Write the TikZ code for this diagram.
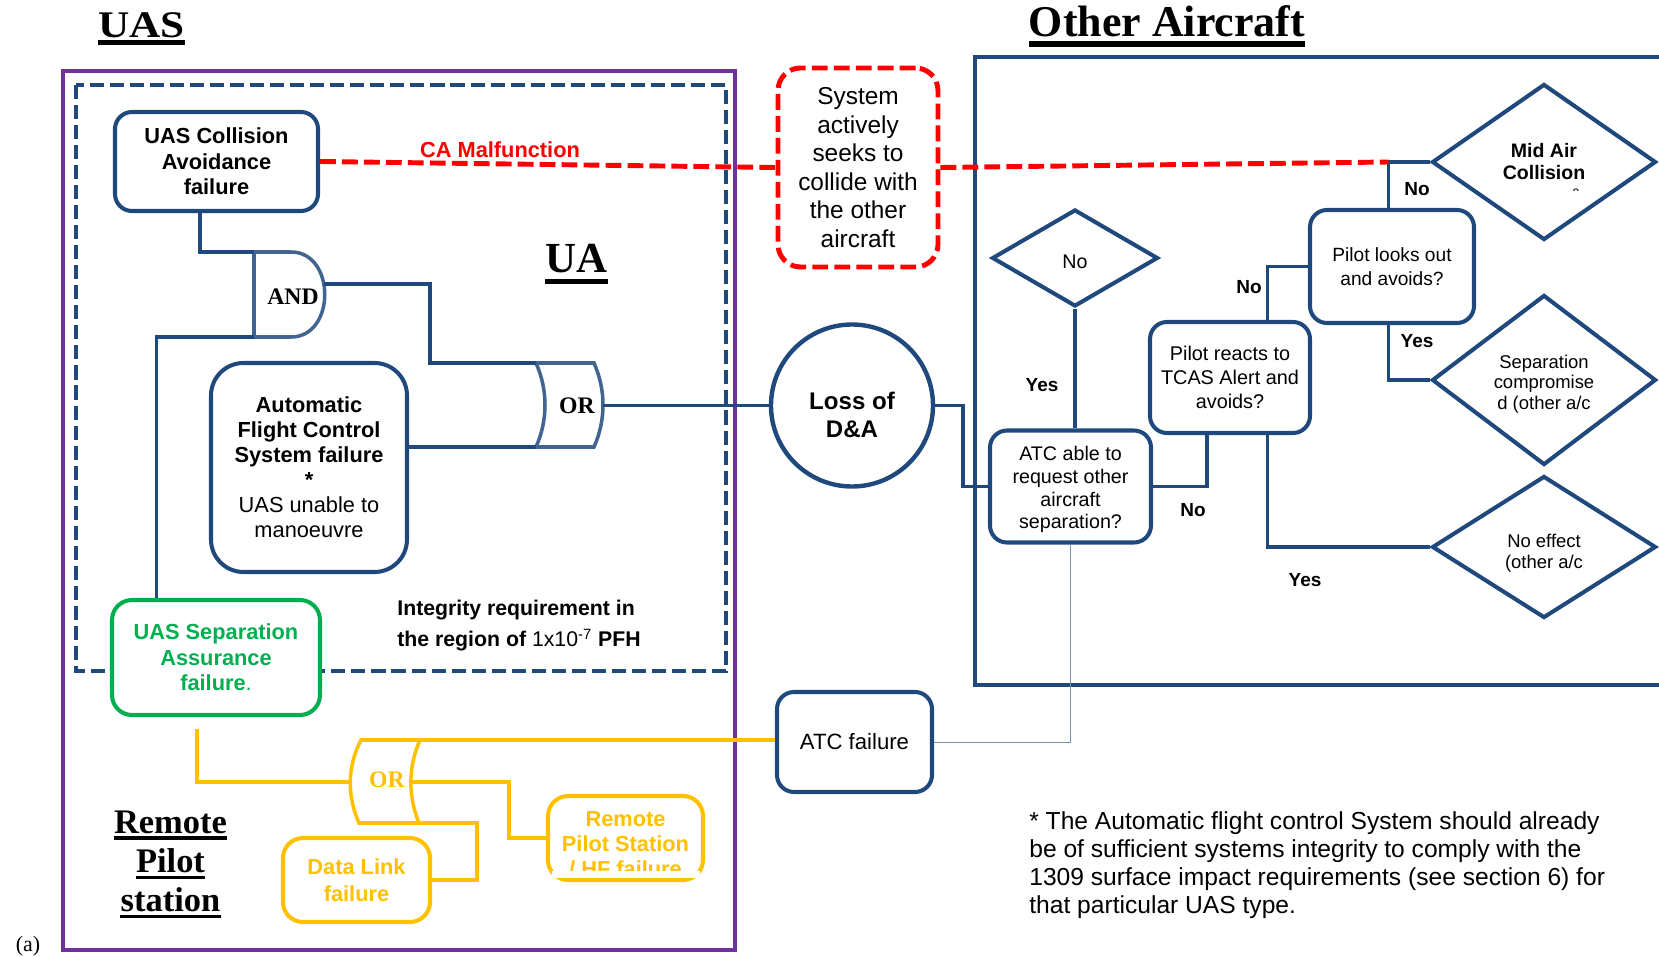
\documentclass[tikz,border=0pt]{standalone}
\usepackage{graphicx}
\usepackage{fontspec}
\setmainfont{Liberation Sans}
\newfontfamily\timesfont{Liberation Serif}
\usepackage{tikz}
\usetikzlibrary{shapes.geometric, calc}
\definecolor{navyblue}{RGB}{31,73,125}
\definecolor{purplebox}{RGB}{112,48,160}
\definecolor{amber}{RGB}{255,192,0}
\definecolor{sepgreen}{RGB}{0,176,80}

\begin{document}
\begin{tikzpicture}[x=2cm, y=2cm,
  box/.style={draw=navyblue, line width=2.3pt, rounded corners=0.34cm, fill=white, align=center, inner sep=0pt},
  ybox/.style={box, draw=amber, text=amber},
  diam/.style={diamond, draw=navyblue, line width=2.3pt, fill=white, align=center, inner sep=0pt},
  link/.style={draw=navyblue, line width=2pt},
  ylink/.style={draw=amber, line width=2pt},
  redline/.style={draw=red, line width=2.8pt, dash pattern=on 9pt off 3.5pt},
  gate/.style={draw=navyblue!85, line width=2pt},
  lbl/.style={inner sep=0pt, font=\bfseries\fontsize{10.8}{13}\selectfont},
  title/.style={inner sep=0pt, font=\timesfont\bfseries\fontsize{#1}{#1}\selectfont},
  gatetext/.style={inner sep=0pt, font=\timesfont\bfseries\fontsize{13.5}{14}\selectfont}]
\useasboundingbox (0,0) rectangle (16.59,-9.57);

% Frames
\draw[purplebox, line width=2.5pt] (0.63,-0.71) rectangle (7.35,-9.50);
\draw[navyblue, line width=2.3pt, dash pattern=on 8pt off 3.4pt] (0.76,-0.85) rectangle (7.26,-6.71);
\draw[navyblue, line width=2.3pt] (17,-0.57) -- (9.75,-0.57) -- (9.75,-6.85) -- (17,-6.85);

% Titles
\node[title=21.4, anchor=base] (uas) at (1.415,-0.375) {\scalebox{1.15}[1]{UAS}};
\draw[line width=2.8pt] ([yshift=-3pt]uas.base west) -- ([yshift=-3pt]uas.base east);
\node[title=25, anchor=base] (other) at (11.67,-0.37) {Other Aircraft};
\draw[line width=3.4pt] ([yshift=-4pt]other.base west) -- ([yshift=-4pt]other.base east);
\node[title=24.4, anchor=base] (ua) at (5.765,-2.73) {UA};
\draw[line width=2.7pt] ([yshift=-4.8pt]ua.base west) -- ([yshift=-4.8pt]ua.base east);
\foreach \word/\y [count=\i] in {Remote/8.33, Pilot/8.725, station/9.115} {
    \node[title=19.6, anchor=base] (rp\i) at (1.705,-\y) {\word};
    \draw[line width=2pt] ([yshift=-2.8pt]rp\i.base west) -- ([yshift=-2.8pt]rp\i.base east);
}
\node[inner sep=0pt, font=\timesfont\fontsize{12.5}{14}\selectfont] (panel) at (0.28,-9.46) {(a)};

% UAS side
\node[box, minimum width=4.06cm, minimum height=1.98cm, font=\bfseries\fontsize{12.4}{14.5}\selectfont] (cafail) at (2.165,-1.615) {UAS Collision\\Avoidance\\failure};
\node[box, rounded corners=0.65cm, minimum width=3.92cm, minimum height=4.18cm, font=\fontsize{12.4}{14.2}\selectfont] (afcs) at (3.09,-4.675) {\textbf{Automatic}\\\textbf{Flight Control}\\\textbf{System failure}\\\textbf{*}\\UAS unable to\\manoeuvre};
\node[box, draw=sepgreen, text=sepgreen, rounded corners=0.4cm, minimum width=4.16cm, minimum height=2.30cm, font=\bfseries\fontsize{12.4}{14.5}\selectfont] (sepfail) at (2.16,-6.575) {UAS Separation\\Assurance\\failure\mdseries.};
\node[inner sep=0pt, anchor=north west, align=left, font=\bfseries\fontsize{12.1}{18}\selectfont] (integ) at (3.97,-5.995) {Integrity requirement in\\the region of {\mdseries 1x10\textsuperscript{-7}} PFH};
\node[inner sep=0pt, text=red, font=\bfseries\fontsize{12.4}{14}\selectfont] (camal) at (5.0,-1.495) {CA Malfunction};

% Gates
\draw[gate, fill=white] (2.54,-2.52) coordinate (andtl) -- (2.91,-2.52) .. controls (3.36,-2.52) and (3.36,-3.37) .. (2.91,-3.37) -- (2.54,-3.37) coordinate (andbl) -- cycle;
\coordinate (andout) at (3.24,-2.84);
\node[gatetext] (andlbl) at (2.93,-2.97) {AND};
\draw[gate, fill=white] (5.36,-3.63) coordinate (ortl) -- (5.94,-3.63) .. controls (6.06,-3.90) and (6.06,-4.20) .. (5.94,-4.47) -- (5.36,-4.47) coordinate (orbl) .. controls (5.48,-4.20) and (5.48,-3.90) .. (5.36,-3.63) -- cycle;
\coordinate (orout) at (6.03,-4.055);
\node[gatetext] (orlbl) at (5.77,-4.06) {OR};
\draw[ylink, fill=white] (3.61,-7.40) coordinate (ytl) -- (4.20,-7.40) .. controls (4.08,-7.67) and (4.08,-7.96) .. (4.19,-8.23) coordinate (ybr) -- (3.59,-8.23) .. controls (3.47,-7.96) and (3.47,-7.67) .. (3.61,-7.40) -- cycle;
\coordinate (yin) at (3.505,-7.82);
\coordinate (yout) at (4.11,-7.82);
\node[gatetext, text=amber] (ylbl) at (3.87,-7.80) {OR};

% Remote pilot station
\node[ybox, rounded corners=0.4cm, minimum width=2.94cm, minimum height=1.68cm, font=\bfseries\fontsize{12.4}{15.3}\selectfont] (datalink) at (3.565,-8.80) {Data Link\\failure};
\node[ybox, rounded corners=0.4cm, minimum width=3.10cm, minimum height=1.68cm, font=\bfseries\fontsize{12.4}{14.2}\selectfont] (rps) at (6.255,-8.38) {\rule{0pt}{15.7pt}Remote\\Pilot Station\\/ HF failure};
\fill[white] (5.52,-8.71) rectangle (7.00,-8.775);

% Middle
\node[box, draw=red, line width=2.8pt, dash pattern=on 9pt off 3.5pt, rounded corners=0.45cm, minimum width=3.2cm, minimum height=3.98cm, font=\fontsize{13.9}{16.2}\selectfont] (system) at (8.58,-1.675) {System\\actively\\seeks to\\collide with\\the other\\aircraft};
\node[circle, draw=navyblue, line width=2.5pt, fill=white, minimum size=3.24cm, inner sep=0pt, align=center, font=\bfseries\fontsize{13.7}{16.2}\selectfont] (loss) at (8.52,-4.055) {\rule{0pt}{20.5pt}Loss of\\D\&A};
\node[box, minimum width=3.1cm, minimum height=2.0cm, font=\fontsize{12.6}{14}\selectfont] (atcfail) at (8.545,-7.42) {ATC failure};

% Other aircraft
\node[box, minimum width=3.22cm, minimum height=2.24cm, font=\fontsize{11.2}{13}\selectfont] (atcreq) at (10.705,-4.865) {\rule{0pt}{11.6pt}ATC able to\\request other\\aircraft\\separation?};
\node[diam, minimum width=3.32cm, minimum height=1.94cm, font=\fontsize{11.2}{13}\selectfont] (nodiam) at (10.75,-2.58) {\rule{0pt}{12pt}No};
\node[box, minimum width=3.2cm, minimum height=2.22cm, font=\fontsize{11.3}{13.5}\selectfont] (tcas) at (12.30,-3.775) {Pilot reacts to\\TCAS Alert and\\avoids?};
\node[box, minimum width=3.28cm, minimum height=2.26cm, font=\fontsize{10.9}{13.3}\selectfont] (pilot) at (13.92,-2.665) {Pilot looks out\\and avoids?};
\node[diam, minimum width=4.48cm, minimum height=3.12cm, font=\bfseries\fontsize{11.1}{12.5}\selectfont] (midair) at (15.44,-1.62) {Mid Air\\Collision};
\begin{scope}
\clip (15.60,-1.82) rectangle (15.90,-1.905);
\node[inner sep=0pt, font=\fontsize{7}{8}\selectfont] (midair9) at (15.74,-1.93) {-9};
\end{scope}
\node[diam, minimum width=4.48cm, minimum height=3.40cm, font=\fontsize{10.5}{11.9}\selectfont] (sepdiam) at (15.44,-3.80) {\rule{0pt}{12.4pt}Separation\\compromise\\d (other a/c};
\node[diam, minimum width=4.48cm, minimum height=2.84cm, font=\fontsize{10.5}{11.9}\selectfont] (noeffect) at (15.44,-5.47) {\rule{0pt}{14.2pt}No effect\\(other a/c};

\node[lbl] (no1) at (14.17,-1.89) {No};
\node[lbl] (yes1) at (14.17,-3.41) {Yes};
\node[lbl] (no2) at (12.49,-2.87) {No};
\node[lbl] (yes2) at (10.42,-3.85) {Yes};
\node[lbl] (no3) at (11.93,-5.10) {No};
\node[lbl] (yes3) at (13.05,-5.80) {Yes};

\node[inner sep=0pt, anchor=north west, align=left, font=\fontsize{14}{15.9}\selectfont] (note) at (10.29,-8.11) {* The Automatic flight control System should already\\be of sufficient systems integrity to comply with the\\1309 surface impact requirements (see section 6) for\\that particular UAS type.};

% Connections
\coordinate (pilottop) at ($(pilot.north west)!0.48!(pilot.north east)$);
\draw[link] ($(cafail.south west)!0.42!(cafail.south east)$) |- (andtl);
\draw[link] (andbl) -| ($(sepfail.north west)!0.22!(sepfail.north east)$);
\draw[link] (andout) -- ++(1.06,0) |- (ortl);
\draw[link] (afcs.east |- orbl) -- (orbl);
\draw[link] (orout) -- (loss.west);
\draw[link] (loss.east) -- ++(0.28,0) |- (atcreq.west);
\draw[link] (nodiam.south) -- (nodiam.south |- atcreq.north);
\draw[link] (atcreq.east) -| ($(tcas.south west)!0.36!(tcas.south east)$);
\draw[link] ($(tcas.south west)!0.73!(tcas.south east)$) |- (noeffect.west);
\draw[link] ($(tcas.north west)!0.73!(tcas.north east)$) |- (pilot.west);
\draw[link] (pilottop) |- (midair.west);
\draw[link] ($(pilot.south west)!0.48!(pilot.south east)$) |- (sepdiam.west);
\draw[draw=navyblue!60, line width=0.5pt] (atcreq.south) |- (atcfail.east);
\draw[ylink] (ytl) -- (ytl -| atcfail.west);
\draw[ylink] ($(sepfail.south west)!0.41!(sepfail.south east)+(0,-0.12)$) |- (yin);
\draw[ylink] (yout) -- ++(0.98,0) |- (rps.west);
\draw[ylink] (ybr) -- ++(0.58,0) |- (datalink.east);
\draw[redline] (cafail.east) -- (system.west);
\draw[redline] (system.east) -- (pilottop |- midair.west);
\end{tikzpicture}
\end{document}
